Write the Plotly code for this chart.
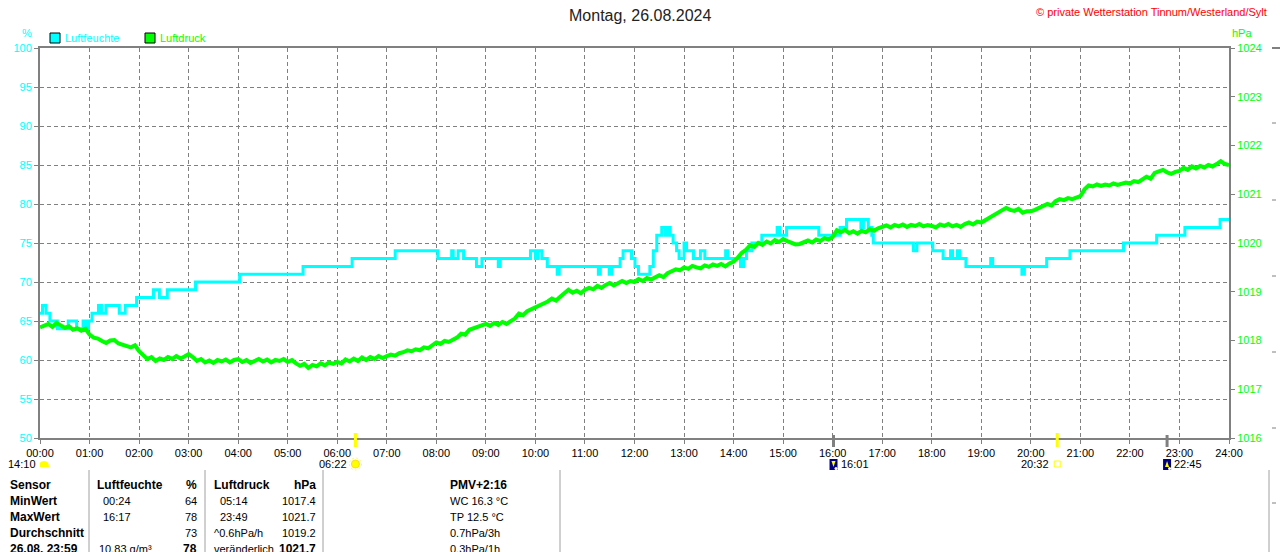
import plotly.graph_objects as go

# ---------------- data ----------------
TITLE = "Montag, 26.08.2024"
COPYRIGHT = "© private Wetterstation Tinnum/Westerland/Sylt"

hour_ticks = list(range(25))
hour_tick_labels = ["%02d:00" % h for h in hour_ticks]

# relative humidity (%), step series: change time (h) -> new value
hum_times = [0.00, 0.05, 0.12, 0.20, 0.35, 0.57, 0.74, 0.87, 0.93, 0.98,
             1.05, 1.18, 1.24, 1.33, 1.60, 1.72, 1.95, 2.29, 2.41, 2.57,
             3.14, 4.03, 5.31, 6.30, 7.17, 8.03, 8.31, 8.34, 8.44, 8.55,
             8.81, 8.92, 9.25, 9.29, 9.90, 10.00, 10.05, 10.13, 10.24, 10.44,
             10.48, 11.27, 11.31, 11.49, 11.54, 11.71, 11.77, 11.94, 12.01, 12.08,
             12.31, 12.38, 12.45, 12.55, 12.62, 12.66, 12.72, 12.78, 12.85, 12.90,
             13.00, 13.05, 13.19, 13.33, 13.42, 13.84, 13.88, 14.14, 14.20, 14.26,
             14.37, 14.57, 14.88, 14.93, 15.07, 15.72, 16.15, 16.28, 16.57, 16.62,
             16.72, 16.79, 16.82, 17.63, 17.70, 18.02, 18.23, 18.38, 18.42, 18.52,
             18.56, 18.69, 19.19, 19.23, 19.82, 19.87, 20.32, 20.79, 21.87, 22.54,
             23.11, 23.82, 24.00]
hum_values = [66, 67, 66, 65, 64, 65, 64, 65, 64, 65,
              66, 67, 66, 67, 66, 67, 68, 69, 68, 69,
              70, 71, 72, 73, 74, 73, 74, 73, 74, 73,
              72, 73, 72, 73, 74, 73, 74, 73, 72, 71,
              72, 71, 72, 71, 72, 73, 74, 73, 72, 71,
              72, 74, 76, 77, 76, 77, 76, 75, 74, 73,
              75, 74, 73, 74, 73, 74, 73, 72, 73, 74,
              75, 76, 77, 76, 77, 76, 77, 78, 77, 78,
              77, 76, 75, 74, 75, 74, 73, 74, 73, 74,
              73, 72, 73, 72, 71, 72, 73, 74, 75, 76,
              77, 78, 78]

# air pressure (hPa), every 5 minutes from 00:00 to 24:00
press_times = [i / 12 for i in range(289)]
press_values = [
    1018.27, 1018.30, 1018.34, 1018.28, 1018.36, 1018.31, 1018.26, 1018.29, 1018.22, 1018.25, 1018.20, 1018.24,
    1018.12, 1018.06, 1018.04, 1017.99, 1017.95, 1018.00, 1018.01, 1017.94, 1017.91, 1017.88, 1017.86, 1017.90,
    1017.78, 1017.70, 1017.62, 1017.66, 1017.58, 1017.63, 1017.60, 1017.66, 1017.62, 1017.68, 1017.63, 1017.67,
    1017.72, 1017.66, 1017.58, 1017.62, 1017.55, 1017.59, 1017.54, 1017.60, 1017.57, 1017.61, 1017.55, 1017.60,
    1017.62, 1017.56, 1017.60, 1017.54, 1017.59, 1017.62, 1017.57, 1017.61, 1017.55, 1017.60, 1017.58, 1017.62,
    1017.56, 1017.60, 1017.53, 1017.48, 1017.52, 1017.44, 1017.50, 1017.47, 1017.53, 1017.49, 1017.55, 1017.52,
    1017.56, 1017.53, 1017.61, 1017.57, 1017.63, 1017.58, 1017.65, 1017.60, 1017.66, 1017.62, 1017.68, 1017.64,
    1017.68, 1017.71, 1017.69, 1017.74, 1017.76, 1017.80, 1017.78, 1017.82, 1017.80, 1017.86, 1017.84, 1017.90,
    1017.96, 1017.93, 1017.99, 1017.97, 1018.02, 1018.06, 1018.14, 1018.12, 1018.22, 1018.25, 1018.28, 1018.32,
    1018.34, 1018.30, 1018.36, 1018.32, 1018.38, 1018.34, 1018.40, 1018.45, 1018.55, 1018.52, 1018.60, 1018.64,
    1018.66, 1018.70, 1018.76, 1018.80, 1018.86, 1018.82, 1018.90, 1018.96, 1019.04, 1018.98, 1019.02, 1018.97,
    1019.04, 1019.08, 1019.05, 1019.12, 1019.08, 1019.14, 1019.18, 1019.13, 1019.17, 1019.22, 1019.18, 1019.22,
    1019.20, 1019.26, 1019.22, 1019.28, 1019.25, 1019.30, 1019.34, 1019.30, 1019.38, 1019.42, 1019.46, 1019.44,
    1019.50, 1019.47, 1019.53, 1019.50, 1019.48, 1019.54, 1019.51, 1019.56, 1019.53, 1019.57, 1019.52, 1019.58,
    1019.62, 1019.70, 1019.80, 1019.86, 1019.95, 1019.92, 1020.00, 1019.96, 1020.03, 1019.99, 1020.06, 1020.02,
    1020.08, 1020.04, 1020.00, 1019.97, 1019.98, 1020.02, 1020.05, 1020.01, 1020.07, 1020.04, 1020.10, 1020.07,
    1020.12, 1020.26, 1020.22, 1020.27, 1020.20, 1020.24, 1020.19, 1020.25, 1020.22, 1020.28, 1020.25, 1020.30,
    1020.33, 1020.36, 1020.32, 1020.37, 1020.34, 1020.38, 1020.33, 1020.37, 1020.35, 1020.39, 1020.34, 1020.37,
    1020.35, 1020.32, 1020.38, 1020.35, 1020.39, 1020.34, 1020.37, 1020.33, 1020.39, 1020.42, 1020.38, 1020.44,
    1020.42, 1020.47, 1020.52, 1020.56, 1020.62, 1020.66, 1020.72, 1020.68, 1020.66, 1020.70, 1020.62, 1020.65,
    1020.65, 1020.68, 1020.72, 1020.75, 1020.80, 1020.77, 1020.86, 1020.90, 1020.88, 1020.92, 1020.90, 1020.93,
    1020.96, 1021.10, 1021.18, 1021.16, 1021.20, 1021.17, 1021.20, 1021.18, 1021.22, 1021.19, 1021.21, 1021.24,
    1021.22, 1021.27, 1021.25, 1021.30, 1021.36, 1021.32, 1021.44, 1021.47, 1021.50, 1021.45, 1021.42, 1021.46,
    1021.48, 1021.54, 1021.50, 1021.57, 1021.53, 1021.58, 1021.55, 1021.60, 1021.57, 1021.62, 1021.68, 1021.62,
    1021.60]

# astronomical events under the time axis
event_labels = ["14:10", "06:22", "16:01", "20:32", "22:45"]
event_hours = [0.08, 6.367, 16.017, 20.533, 22.75]
event_kinds = ["daylen", "sunrise", "moonset", "sunset", "moonrise"]

# statistics table
table_rows = ["Sensor", "MinWert", "MaxWert", "Durchschnitt", "26.08. 23:59"]
hum_col_a = ["Luftfeuchte", "00:24", "16:17", "", "10.83 g/m³"]
hum_col_b = ["%", "64", "78", "73", "78"]
press_col_a = ["Luftdruck", "05:14", "23:49", "^0.6hPa/h", "veränderlich"]
press_col_b = ["hPa", "1017.4", "1021.7", "1019.2", "1021.7"]
pmv_col = ["PMV+2:16", "WC 16.3 °C", "TP 12.5 °C", "0.7hPa/3h", "0.3hPa/1h"]

# ---------------- styling / layout ----------------
FONT = "Liberation Sans"
CYAN = "#00FFFF"
GREEN = "#00FF00"
GRAY = "#808080"
W, H = 1280, 552
L, R, T, B = 40, 51, 48, 114
PW = W - L - R
PH = H - T - B


def PX(px):
    return (px - L) / PW


def PY(py):
    return (H - B - py) / PH


fig = go.Figure()
fig.add_trace(go.Scatter(x=hum_times, y=hum_values, mode="lines",
                         line=dict(color=CYAN, width=3, shape="hv"),
                         yaxis="y", hoverinfo="skip", showlegend=False))
fig.add_trace(go.Scatter(x=press_times, y=press_values, mode="lines",
                         line=dict(color=GREEN, width=4),
                         yaxis="y2", hoverinfo="skip", showlegend=False))

annotations = []
shapes = []

# title and copyright
annotations.append(dict(text=TITLE, xref="paper", yref="paper", x=PX(640), y=PY(15),
                        xanchor="center", yanchor="middle", showarrow=False,
                        font=dict(family=FONT, size=16, color="#222222")))
annotations.append(dict(text=COPYRIGHT, xref="paper", yref="paper", x=PX(1269), y=PY(12),
                        xanchor="right", yanchor="middle", showarrow=False,
                        font=dict(family=FONT, size=11, color="#FF0000")))
# axis units
annotations.append(dict(text="%", xref="paper", yref="paper", x=PX(27), y=PY(33),
                        xanchor="center", yanchor="middle", showarrow=False,
                        font=dict(family=FONT, size=11, color=CYAN)))
annotations.append(dict(text="hPa", xref="paper", yref="paper", x=PX(1230), y=PY(33),
                        xanchor="left", yanchor="middle", showarrow=False,
                        font=dict(family=FONT, size=11, color=GREEN)))
# legend
for x0, col, name in [(50, CYAN, "Luftfeuchte"), (145, GREEN, "Luftdruck")]:
    shapes.append(dict(type="rect", xref="paper", yref="paper", x0=PX(x0), x1=PX(x0 + 10),
                       y0=PY(43), y1=PY(33), fillcolor=col, line=dict(color="black", width=1)))
    annotations.append(dict(text=name, xref="paper", yref="paper", x=PX(x0 + 13), y=PY(38),
                            xanchor="left", yanchor="middle", showarrow=False,
                            font=dict(family=FONT, size=11, color=col)))


def icon(kind_shape, hr, **kw):
    d = dict(type=kind_shape, xref="x", yref="paper", xsizemode="pixel", ysizemode="pixel",
             xanchor=hr, yanchor=PY(464))
    d.update(kw)
    shapes.append(d)


# event markers on the time axis, icons and labels
for lab, hr, kind in zip(event_labels, event_hours, event_kinds):
    if kind in ("sunrise", "sunset"):
        shapes.append(dict(type="line", xref="x", yref="paper", x0=hr, x1=hr,
                           y0=PY(447), y1=PY(433), line=dict(color="#FFFF00", width=3)))
    elif kind in ("moonset", "moonrise"):
        shapes.append(dict(type="line", xref="x", yref="paper", x0=hr, x1=hr,
                           y0=PY(447), y1=PY(435), line=dict(color=GRAY, width=3)))
    if kind == "daylen":
        icon("path", hr, path="M -5,-3 L 5,-3 Q 5,3 0,3 Q -5,3 -5,-3 Z",
             fillcolor="#FFFF00", line=dict(width=0))
    elif kind == "sunrise":
        icon("circle", hr, x0=-6, x1=6, y0=-6, y1=6, fillcolor="rgba(0,0,0,0)",
             line=dict(color="#FFF27A", width=1, dash="2px,2px"))
        icon("circle", hr, x0=-4, x1=4, y0=-4, y1=4, fillcolor="#FFFF00",
             line=dict(color="#FFE000", width=1))
    elif kind == "sunset":
        icon("rect", hr, x0=-3, x1=3, y0=-3, y1=3, fillcolor="white",
             line=dict(color="#FFFF00", width=1))
    else:
        icon("rect", hr, x0=-4, x1=4, y0=-6, y1=5, fillcolor="#000080", line=dict(width=0))
        tri = "M -2,3 L 2,3 L 0,-3 Z" if kind == "moonset" else "M -2,-3 L 2,-3 L 0,3 Z"
        icon("path", hr, path=tri, fillcolor="#FFFF00", line=dict(width=0))
        icon("circle", hr, x0=1, x1=4, y0=-6, y1=-3, fillcolor="white", line=dict(width=0))
    left_side = kind in ("daylen", "sunrise", "sunset")
    annotations.append(dict(text=lab, xref="x", yref="paper", x=hr, y=PY(464),
                            xanchor="right" if left_side else "left",
                            xshift=-6 if left_side else 5, yanchor="middle",
                            showarrow=False, font=dict(family=FONT, size=11, color="black")))

# table
row_y = [485, 501, 517, 533, 549]


def txt(s, px, py, anchor="left", bold=False):
    if not s:
        return
    annotations.append(dict(text=("<b>%s</b>" % s) if bold else s, xref="paper", yref="paper",
                            x=PX(px), y=PY(py), xanchor=anchor, yanchor="middle",
                            showarrow=False,
                            font=dict(family=FONT, size=12 if bold else 11, color="black")))


hum_a_x = [95, 101, 101, 101, 97]
press_a_x = [212, 218, 218, 212, 212]
for i in range(5):
    y = row_y[i]
    txt(table_rows[i], 8, y, bold=True)
    txt(hum_col_a[i], hum_a_x[i], y, bold=(i == 0))
    txt(hum_col_b[i], 199, y, anchor="right", bold=(i == 0 or i == 4))
    txt(press_col_a[i], press_a_x[i], y, bold=(i == 0))
    txt(press_col_b[i], 318, y, anchor="right", bold=(i == 0 or i == 4))
    txt(pmv_col[i], 448, y, bold=(i == 0))

for sx in [89, 205, 323, 560, 1269]:
    shapes.append(dict(type="line", xref="paper", yref="paper", x0=PX(sx), x1=PX(sx),
                       y0=PY(470), y1=PY(560), line=dict(color="#A0A0A0", width=1)))

# small fragments of a neighbouring panel at the right edge
shapes.append(dict(type="line", xref="paper", yref="paper", x0=PX(1272), x1=PX(1280),
                   y0=PY(48), y1=PY(48), line=dict(color=GRAY, width=2)))
for ty in [123, 200, 276, 352, 428, 503]:
    shapes.append(dict(type="line", xref="paper", yref="paper", x0=PX(1272), x1=PX(1276),
                       y0=PY(ty), y1=PY(ty), line=dict(color=GRAY, width=1)))

fig.update_layout(
    width=W, height=H,
    margin=dict(l=L, r=R, t=T, b=B, pad=0),
    paper_bgcolor="white", plot_bgcolor="white",
    showlegend=False,
    xaxis=dict(range=[0, 24], tickvals=hour_ticks, ticktext=hour_tick_labels,
               tickfont=dict(family=FONT, size=11, color="black"),
               ticks="outside", ticklen=4, tickcolor=GRAY,
               showgrid=True, gridcolor=GRAY, griddash="4px,3px", gridwidth=1,
               showline=True, linecolor=GRAY, linewidth=2, mirror=True,
               zeroline=False, fixedrange=True),
    yaxis=dict(range=[50, 100], tick0=50, dtick=5,
               tickfont=dict(family=FONT, size=11, color=CYAN),
               ticks="outside", ticklen=4, tickcolor=GRAY,
               showgrid=True, gridcolor=GRAY, griddash="4px,3px", gridwidth=1,
               showline=True, linecolor=GRAY, linewidth=2, mirror=True,
               zeroline=False, fixedrange=True),
    yaxis2=dict(range=[1016, 1024], tick0=1016, dtick=1, overlaying="y", side="right",
                tickfont=dict(family=FONT, size=11, color=GREEN),
                ticks="outside", ticklen=5, tickcolor=GRAY,
                showgrid=False, showline=False, zeroline=False, fixedrange=True),
    annotations=annotations,
    shapes=shapes,
)

fig.write_html("out.html", config={"displayModeBar": False},
               post_script="document.body.style.margin='0';document.body.style.overflow='hidden';")
